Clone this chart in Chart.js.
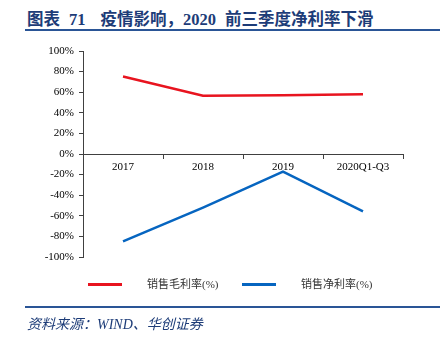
<!DOCTYPE html>
<html>
<head>
<meta charset="utf-8">
<script src="https://cdn.jsdelivr.net/npm/chart.js@4.4.1/dist/chart.umd.min.js"></script>
<style>
  html, body { margin: 0; padding: 0; background: #fff; }
  #wrap { position: relative; width: 448px; height: 340px; overflow: hidden; }
  #chart { position: absolute; left: 0; top: 0; }
  .title {
    position: absolute; left: 27px; top: 6px;
    font: bold 16.5px "Liberation Serif", "Noto Sans CJK SC", serif;
    color: #1d3c78; white-space: nowrap;
  }
  .title .gap1 { margin-left: 9px; }
  .title .gap2 { margin-left: 15px; }
  .title .gap3 { margin-left: 9px; }
  .rule { position: absolute; left: 25px; width: 415px; height: 2px; background: #2a5596; }
  .source {
    position: absolute; left: 27px; top: 313px;
    font: italic 14px "Liberation Serif", "Noto Sans CJK SC", serif;
    color: #1d3c78;
  }
  .legend-item {
    position: absolute; top: 277px; height: 14px;
    font: 11px "Liberation Serif", "Noto Sans CJK SC", serif; color: #333;
  }
  .legend-item .swatch { position: absolute; left: 0; top: 6px; width: 34px; height: 3px; }
  .legend-item .label { position: absolute; left: 59px; top: 0; white-space: nowrap; line-height: 14px; }
</style>
</head>
<body>
<div id="wrap">
  <div class="title">图表<span class="gap1">71</span><span class="gap2">疫情影响，2020</span><span class="gap3">前三季度净利率下滑</span></div>
  <div class="rule" style="top:29px"></div>
  <canvas id="chart" width="448" height="340"></canvas>
  <div id="legend"></div>
  <div class="rule" style="top:306px"></div>
  <div class="source">资料来源：WIND、华创证券</div>
</div>
<script>
const years = ['2017', '2018', '2019', '2020Q1-Q3'];
const grossMargin = [75.3, 56.5, 57, 58];
const netMargin = [-84.8, -52, -17.2, -55.7];
const yTicks = [-100, -80, -60, -40, -20, 0, 20, 40, 60, 80, 100];

const tickFont = { family: 'Liberation Serif', size: 11 };
const axisColor = '#404040';

const config = {
    type: 'line',
    data: {
        labels: years,
        datasets: [{
            label: '销售毛利率(%)',
            data: grossMargin,
            borderColor: '#e8141f',
            borderWidth: 2.5,
            pointRadius: 0,
            fill: false,
            tension: 0
        }, {
            label: '销售净利率(%)',
            data: netMargin,
            borderColor: '#0665c0',
            borderWidth: 2.5,
            pointRadius: 0,
            fill: false,
            tension: 0
        }]
    },
    options: {
        responsive: false,
        animation: false,
        layout: { padding: { left: 0, right: 45, top: 51, bottom: 83 } },
        plugins: {
            legend: { display: false },
            tooltip: { enabled: false }
        },
        scales: {
            x: {
                type: 'category',
                position: { y: 0 },
                offset: true,
                grid: {
                    display: true,
                    offset: true,
                    drawOnChartArea: false,
                    drawTicks: true,
                    tickLength: 4,
                    color: axisColor
                },
                border: { display: true, color: axisColor, width: 1 },
                ticks: { font: tickFont, color: '#000', padding: 3, maxRotation: 0 }
            },
            y: {
                min: -100,
                max: 100,
                afterFit: (scale) => { scale.width = 83; },
                afterBuildTicks: (scale) => {
                    scale.ticks = yTicks.map(v => ({ value: v }));
                },
                grid: {
                    display: true,
                    drawOnChartArea: false,
                    drawTicks: true,
                    tickLength: 4,
                    color: axisColor
                },
                border: { display: true, color: axisColor, width: 1 },
                ticks: {
                    font: tickFont,
                    color: '#000',
                    padding: 5,
                    callback: (v) => v + '%'
                }
            }
        }
    }
};

const chart = new Chart(document.querySelector('#chart').getContext('2d'), config);

// legend built from the datasets
const legendEl = document.querySelector('#legend');
chart.data.datasets.forEach((ds, i) => {
    const item = document.createElement('div');
    item.className = 'legend-item';
    item.style.left = (88 + i * 154) + 'px';
    item.innerHTML = `<span class="swatch" style="background:${ds.borderColor}"></span>` +
        `<span class="label">${ds.label}</span>`;
    legendEl.appendChild(item);
});
</script>
</body>
</html>
